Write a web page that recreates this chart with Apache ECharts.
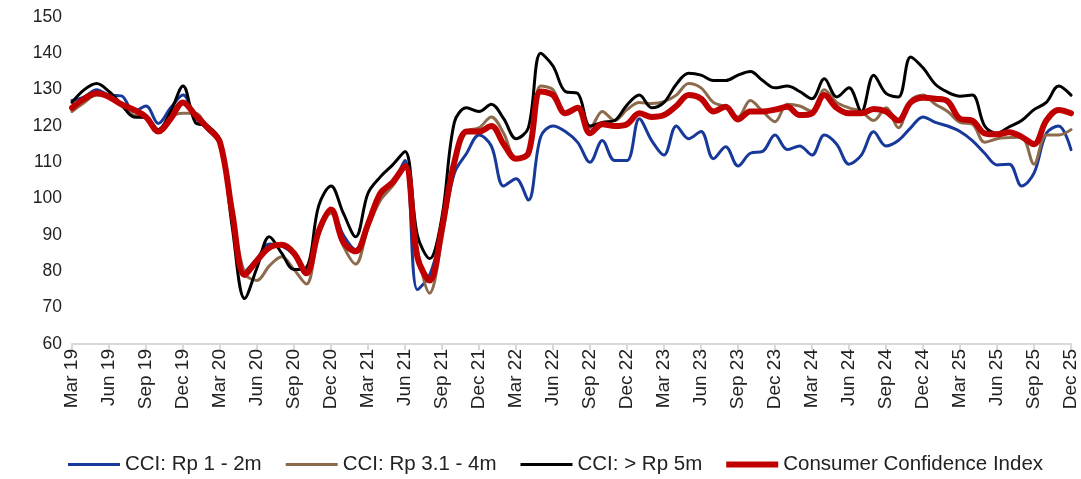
<!DOCTYPE html>
<html>
<head>
<meta charset="utf-8">
<script src="https://cdn.jsdelivr.net/npm/echarts@6/dist/echarts.min.js"></script>
<style>
  html, body { margin: 0; padding: 0; background: #fff; }
  #chart { width: 1081px; height: 479px; }
</style>
</head>
<body>
<div id="chart"></div>
<script>
// monthly labels, Mar 19 .. Dec 25
const monthNames = ['Jan', 'Feb', 'Mar', 'Apr', 'May', 'Jun', 'Jul', 'Aug', 'Sep', 'Oct', 'Nov', 'Dec'];
const months = [];
for (let y = 2019; y <= 2025; y++) {
  for (let m = 0; m < 12; m++) {
    if (y === 2019 && m < 2) continue;
    months.push(monthNames[m] + ' ' + String(y).slice(2));
  }
}

const seriesNames = ['CCI: Rp 1 - 2m', 'CCI: Rp 3.1 - 4m', 'CCI: > Rp 5m', 'Consumer Confidence Index'];

const cciLow = [
  127, 128, 130, 128.5, 128.3, 124, 125.5, 120.7, 125, 128.5, 122.5, 119, 115,
  96, 80, 83.5, 87.5, 87, 84.5, 80, 91.5, 97, 90, 86, 93, 100.5, 104, 110.5,
  75, 79, 91, 107, 112.5, 117.5, 114.5, 103.5, 105.5, 99.6, 117, 120, 118.5,
  115.5, 110, 116, 110.5, 110.5, 122, 116, 112, 120, 116.5, 118.5, 111, 114.3,
  109, 112.5, 113, 117.5, 113.5, 114.5, 112, 117.5, 115, 109.5, 112, 118.4,
  114.5, 116, 119.5, 122.5, 121, 120, 118.5, 116, 112.5, 109.3, 109.5, 103.5,
  107, 118, 120, 113.5
];

const cciMid = [
  124, 126.5, 128.5, 128, 125.5, 123, 122.5, 119, 122.5, 123.5, 123.5, 119.5, 116,
  96, 79.5, 77.5, 81.5, 84, 80.5, 76.5, 90, 96, 87, 82, 92, 99.5, 103.5, 108.5,
  86, 74, 89, 110, 118.5, 119.5, 122.5, 118, 111, 112, 131, 130, 123.5,
  125, 119.5, 124, 121.5, 124.5, 126.5, 126.2, 126.7, 128.5, 131.7, 130.5, 126.5, 125.2,
  122.5, 127, 124, 121.2, 126, 125.5, 124, 130, 126.5, 125, 124, 121.5,
  125, 119.5, 127, 128.5, 126, 124, 121, 120.5, 115.5, 116.5, 116.8, 117,
  109.5, 117.5, 117.5, 119
];

const cciHigh = [
  126.5, 130, 131.7, 129.5, 126, 122.5, 122.3, 119, 124, 131, 121, 120, 116,
  92, 72.5, 81, 89.5, 85, 80.5, 81, 98, 103.5, 96, 89.5, 101.5, 106, 109.3, 113,
  90, 83.5, 95, 121, 125, 124, 126, 122, 116.5, 119.5, 140, 136.5, 129.5,
  129, 120, 121, 121.5, 125.8, 128.5, 125, 126.5, 131.5, 134.5, 134, 132.5, 132.5,
  134, 135, 132.5, 130.5, 131, 129.5, 127.5, 133, 128, 130.5, 124, 134,
  129, 128, 139, 136, 131.5, 129.3, 128.2, 128.5, 120, 118, 119.8, 121.5,
  124.5, 126.5, 131, 128.5
];

const cciTotal = [
  125, 127.5, 129, 128, 126, 124.5, 122.5, 118.5, 122, 126.5, 123, 119.5, 115.5,
  96, 79, 83, 86.5, 87.3, 85, 79.5, 91, 97, 88, 85.5, 93, 101.5, 104.5, 109,
  84, 77.5, 92, 110, 118.5, 118.5, 120, 115, 111, 112.5, 129.5, 128.5, 123.5,
  125, 118, 120.5, 120, 120.5, 123.5, 122.5, 123, 125.5, 128.5, 127.5, 124, 125.3,
  121.8, 124, 124, 124.5, 125.3, 123, 123.5, 128.5, 125, 123.5, 123.5, 124.7,
  124, 121.5, 126.5, 127.8, 127.5, 126.8, 122, 121.5, 118, 117.7, 118.3, 117,
  115, 121.5, 124.4, 123.5
];

const seriesData = [cciLow, cciMid, cciHigh, cciTotal];
const seriesColors = ['#16399a', '#8c6b4c', '#000000', '#c00000'];
const seriesWidths = [3, 3, 3, 6];

// legend swatches: thin bar for the three bands, thick bar for the index
const thinIcon = 'path://M0,0H0.01V0.01H0Z M0,1.5H52V4.5H0Z M0,5.99H0.01V6H0Z';
const thickIcon = 'path://M0,0H52V6H0Z';

const fontStack = '"Liberation Sans", Arial, sans-serif';

var chart = echarts.init(document.getElementById('chart'), null, { renderer: 'canvas' });

var option = {
  backgroundColor: '#ffffff',
  animation: false,
  grid: { left: 72, right: 10, top: 17, bottom: 135, containLabel: false },
  legend: {
    left: 68,
    top: 454,
    padding: 0,
    itemWidth: 52,
    itemHeight: 6,
    itemGap: 24,
    textStyle: { fontFamily: fontStack, fontSize: 20.5, color: '#222' },
    data: seriesNames.map(function (name, i) {
      return { name: name, icon: i === 3 ? thickIcon : thinIcon };
    })
  },
  xAxis: {
    type: 'category',
    data: months,
    boundaryGap: false,
    axisLine: { lineStyle: { color: '#d9d9d9', width: 2 } },
    axisTick: { show: true, interval: 2, length: 6, lineStyle: { color: '#d9d9d9', width: 2 } },
    axisLabel: {
      interval: 2,
      rotate: 90,
      margin: 5,
      fontFamily: fontStack,
      fontSize: 19,
      color: '#222'
    },
    splitLine: { show: false }
  },
  yAxis: {
    type: 'value',
    min: 60,
    max: 150,
    interval: 10,
    axisLine: { show: false },
    axisTick: { show: false },
    splitLine: { show: false },
    axisLabel: { margin: 10, fontFamily: fontStack, fontSize: 17.5, color: '#222' }
  },
  series: seriesNames.map(function (name, i) {
    return {
      name: name,
      type: 'line',
      data: seriesData[i],
      smooth: 0.35,
      symbol: 'none',
      color: seriesColors[i],
      lineStyle: { color: seriesColors[i], width: seriesWidths[i], cap: 'round', join: 'round' },
      z: 2 + i
    };
  })
};

chart.setOption(option);
</script>
</body>
</html>
